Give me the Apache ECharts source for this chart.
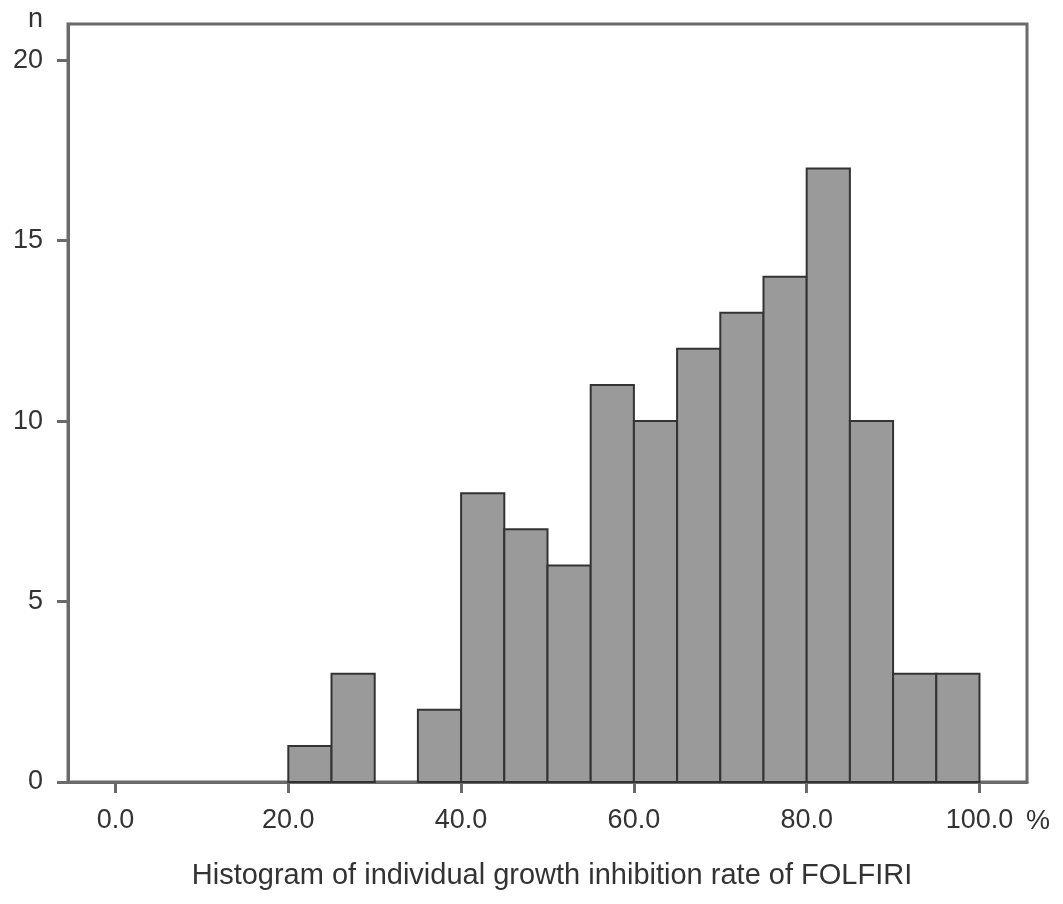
<!DOCTYPE html>
<html>
<head>
<meta charset="utf-8">
<script src="https://cdn.jsdelivr.net/npm/echarts@6/dist/echarts.min.js"></script>
<style>
html,body{margin:0;padding:0;background:#fff;}
#chart{width:1063px;height:904px;}
</style>
</head>
<body>
<div id="chart"></div>
<script>
// Histogram bins (growth inhibition rate, %)
var binStarts = [20, 25, 35, 40, 45, 50, 55, 60, 65, 70, 75, 80, 85, 90, 95];
var binEnds   = [25, 30, 40, 45, 50, 55, 60, 65, 70, 75, 80, 85, 90, 95, 100];
var counts    = [1, 3, 2, 8, 7, 6, 11, 10, 12, 13, 14, 17, 10, 3, 3];
var xTickValues = [0, 20, 40, 60, 80, 100];
var yTickValues = [0, 5, 10, 15, 20];
var yAxisName = 'n';
var xUnit = '%';
var xTitle = 'Histogram of individual growth inhibition rate of FOLFIRI';

var FONT = '"Liberation Sans", Arial, Helvetica, sans-serif';
var TEXT = '#333';
var FRAME = '#6a6a6a';

var seriesData = binStarts.map(function (s, i) { return [s, binEnds[i], counts[i]]; });

var chart = echarts.init(document.getElementById('chart'), null, {renderer: 'canvas'});
chart.setOption({
  animation: false,
  backgroundColor: '#fff',
  grid: {
    left: 68, right: 36, top: 24, bottom: 122,
    show: true, borderColor: FRAME, borderWidth: 3, backgroundColor: 'transparent'
  },
  xAxis: {
    type: 'value',
    min: -5.5, max: 105.5,
    splitLine: {show: false},
    axisLine: {show: true, onZero: false, lineStyle: {color: FRAME, width: 3}},
    axisTick: {show: true, customValues: xTickValues, length: 11, lineStyle: {color: FRAME, width: 3}},
    axisLabel: {
      customValues: xTickValues, margin: 25,
      fontFamily: FONT, fontSize: 27, color: TEXT,
      formatter: function (v) { return v.toFixed(1); }
    }
  },
  yAxis: {
    type: 'value',
    min: 0, max: 21,
    splitLine: {show: false},
    axisLine: {show: true, onZero: false, lineStyle: {color: FRAME, width: 3}},
    axisTick: {show: true, customValues: yTickValues, length: 11, lineStyle: {color: FRAME, width: 3}},
    axisLabel: {customValues: yTickValues, margin: 25, fontFamily: FONT, fontSize: 27, color: TEXT}
  },
  series: [{
    type: 'custom',
    data: seriesData,
    encode: {x: [0, 1], y: 2},
    renderItem: function (params, api) {
      var p0 = api.coord([api.value(0), api.value(2)]);
      var p1 = api.coord([api.value(1), 0]);
      return {
        type: 'rect',
        shape: {x: p0[0], y: p0[1], width: p1[0] - p0[0], height: p1[1] - p0[1]},
        style: {fill: '#9a9a9a', stroke: '#333', lineWidth: 2}
      };
    }
  }],
  graphic: [
    {type: 'text', x: 43, y: 20, style: {text: yAxisName, font: '27px ' + FONT, fill: TEXT, textAlign: 'right', textVerticalAlign: 'middle'}},
    {type: 'text', x: 1026, y: 822, style: {text: xUnit, font: '27px ' + FONT, fill: TEXT, textAlign: 'left', textVerticalAlign: 'middle'}},
    {type: 'text', x: 552, y: 876, style: {text: xTitle, font: '29px ' + FONT, fill: TEXT, textAlign: 'center', textVerticalAlign: 'middle'}}
  ]
});
</script>
</body>
</html>
